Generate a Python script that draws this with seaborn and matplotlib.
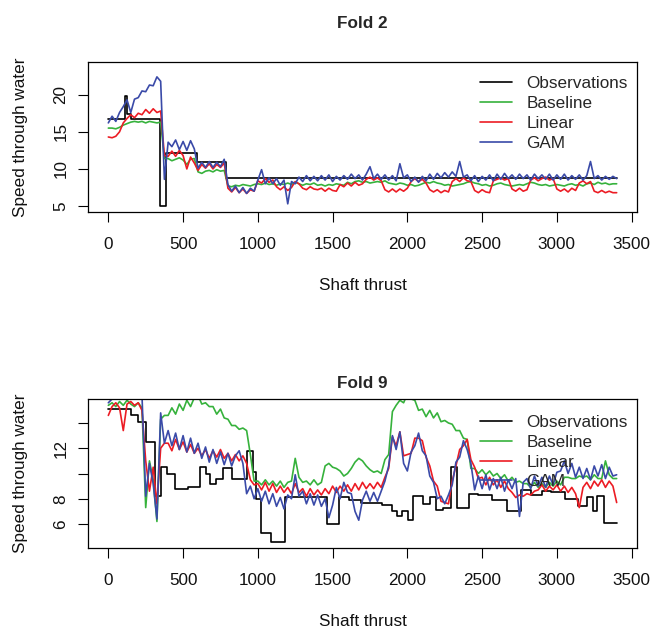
import numpy as np
import pandas as pd
import matplotlib
matplotlib.use("Agg")
import matplotlib.pyplot as plt
from matplotlib.lines import Line2D
import seaborn as sns

sns.set_theme(style="white")
plt.rcParams["font.family"] = ["Liberation Sans", "DejaVu Sans"]

# ---------------- data ----------------
x_grid = list(range(0, 3401, 25))  # observation index for model series

# Fold 2
obs2_x = [0, 110, 125, 150, 345, 385, 590, 785, 3400]
obs2_y = [16.7, 19.8, 17.4, 16.7, 5.0, 12.2, 10.9, 8.8, 8.8]

base2 = [15.5, 15.5, 15.4, 15.6, 15.9, 16.1, 16.3, 16.4,
         16.3, 16.4, 16.2, 16.4, 16.3, 16.2, 16.3, 11.4,
         11.4, 11.1, 11.3, 11.5, 11.2, 10.6, 11.3, 11.4,
         9.6, 9.4, 9.7, 9.8, 9.6, 9.9, 9.7, 9.8,
         7.7, 7.6, 7.8, 7.7, 7.9, 7.8, 7.7, 7.9,
         8.0, 7.9, 8.1, 7.9, 8.0, 7.8, 8.0, 7.9,
         8.1, 7.9, 8.2, 8.0, 7.8, 8.0, 7.9, 8.1,
         7.8, 7.9, 7.7, 7.9, 7.8, 8.0, 7.9, 7.8,
         8.2, 8.0, 8.3, 8.4, 8.2, 8.3, 8.1, 8.2,
         8.3, 8.2, 8.4, 8.1, 8.0, 7.9, 8.1, 8.0,
         7.8, 7.9, 7.7, 7.8, 8.0, 8.2, 8.1, 8.3,
         8.1, 8.0, 7.8, 7.9, 7.7, 7.8, 7.9, 8.0,
         8.2, 8.3, 8.1, 8.0, 7.8, 7.9, 7.7, 7.8,
         8.0, 8.1, 7.9, 7.8, 7.7, 7.8, 7.9, 7.8,
         8.0, 8.2, 8.1, 7.9, 7.8, 7.9, 7.7, 7.8,
         7.9, 7.8, 7.7, 7.9, 8.0, 7.8, 7.9, 7.7,
         8.0, 8.1, 7.9, 8.2, 8.0, 8.1, 7.9, 8.0,
         8.0]

lin2 = [14.3, 14.2, 14.4, 15.0, 16.2, 16.8, 17.3, 16.9,
        17.5, 17.3, 18.0, 17.5, 18.1, 17.6, 17.8, 11.8,
        11.7, 12.4, 11.7, 12.5, 11.8, 10.0, 11.6, 10.8,
        9.8, 10.6, 10.1, 10.7, 10.0, 10.6, 10.2, 10.8,
        7.4, 6.9, 7.5, 6.8, 7.3, 6.7, 7.2, 7.0,
        8.4, 8.1, 8.7, 8.2, 8.5, 7.6, 7.2, 7.6,
        7.1, 7.5, 8.3, 8.0, 7.4, 7.2, 7.6, 7.3,
        7.2, 7.4, 7.0, 7.4, 7.1, 7.0, 7.9, 7.6,
        8.1, 7.7, 8.2, 7.8, 8.0, 8.6, 8.9, 8.5,
        8.8, 8.4, 7.2, 6.9, 7.3, 6.9, 7.3, 7.0,
        7.4, 8.3, 8.7, 8.3, 8.6, 8.1, 7.2, 6.9,
        7.2, 6.8, 7.1, 6.9, 8.3, 8.7, 8.3, 8.8,
        8.4, 8.3, 7.1, 6.8, 7.2, 6.9, 6.8, 8.4,
        8.6, 8.8, 8.5, 8.7, 7.3, 7.0, 7.4, 7.0,
        7.2, 8.5, 8.8, 8.4, 8.7, 8.9, 8.5, 8.7,
        7.3, 7.0, 7.3, 6.9, 7.4, 7.1, 8.1, 8.4,
        8.0, 8.3, 7.0, 6.8, 7.1, 6.8, 7.0, 6.8,
        6.8]

gam2 = [16.2, 17.1, 16.4, 17.6, 18.4, 19.3, 17.6, 19.4,
        19.6, 20.5, 20.4, 21.3, 21.2, 22.4, 21.8, 8.6,
        13.6, 13.0, 13.9, 12.6, 13.7, 12.5, 13.8, 12.7,
        10.1, 10.9, 10.2, 11.0, 10.2, 10.9, 10.3, 11.3,
        7.9, 7.0, 7.7, 6.8, 7.5, 6.7, 7.4, 7.0,
        8.5, 9.9, 8.0, 8.8, 8.0, 8.7, 7.8, 8.5,
        5.3, 8.3, 8.0, 8.9, 8.3, 9.1, 8.4, 9.0,
        8.4, 9.1, 8.5, 9.2, 8.3, 9.0, 8.5, 9.1,
        8.6, 9.3, 8.7, 9.2, 8.5, 9.3, 10.3, 8.7,
        9.3, 8.6, 9.2, 8.5, 9.1, 8.4, 10.7, 8.8,
        9.2, 8.3, 8.9, 8.2, 9.0, 8.4, 9.3, 8.6,
        9.4, 8.8, 9.5, 8.9, 9.6, 9.0, 11.0, 8.9,
        9.2, 8.4, 9.1, 8.3, 9.0, 8.5, 9.2, 8.4,
        9.3, 8.6, 9.4, 8.7, 9.2, 8.6, 9.3, 8.7,
        9.2, 8.5, 9.3, 8.7, 9.2, 8.6, 9.3, 8.5,
        9.2, 8.6, 9.3, 8.5, 9.1, 8.6, 9.2, 8.5,
        9.1, 11.0, 8.7, 9.1, 8.5, 9.0, 8.6, 9.0,
        8.7]

# Fold 9
obs9_x = [0, 150, 200, 250, 310, 350, 390, 445, 535, 612, 650, 680, 720, 770,
          830, 925, 965, 990, 1020, 1090, 1180, 1465, 1545, 1610, 1690, 1830,
          1897, 1930, 1965, 2007, 2040, 2106, 2150, 2190, 2240, 2290, 2330,
          2413, 2475, 2564, 2664, 2763, 2830, 2900, 2963, 3052, 3141, 3200,
          3240, 3270, 3318, 3400]
obs9_y = [15.1, 14.6, 14.1, 12.5, 8.2, 10.5, 10.0, 8.8, 8.9, 10.5, 10.0, 9.2,
          9.6, 10.4, 9.6, 11.8, 10.1, 8.0, 5.3, 4.6, 8.1, 6.0, 8.1, 7.9, 7.7,
          7.5, 7.0, 6.6, 7.0, 6.3, 8.2, 7.6, 8.1, 7.1, 7.3, 10.5, 7.3, 8.4,
          8.3, 7.9, 7.0, 8.7, 8.3, 8.6, 8.5, 8.0, 7.4, 8.1, 7.0, 8.2, 6.1, 6.1]

base9 = [15.4, 15.6, 15.3, 15.7, 15.4, 15.8, 15.5, 15.3,
         15.6, 15.2, 7.3, 11.0, 9.5, 6.2, 14.3, 14.6,
         14.6, 15.2, 14.7, 15.5, 15.0, 15.8, 15.3, 16.0,
         16.2, 15.5, 15.6, 15.3, 15.3, 14.7, 15.1, 14.4,
         14.3, 13.8, 13.8, 13.5, 13.6, 13.4, 11.5, 9.4,
         9.4, 9.1, 9.5, 9.1, 9.4, 9.0, 9.4, 8.9,
         9.3, 9.4, 11.2, 9.7, 9.3, 9.4, 9.1, 9.5,
         9.1, 9.3, 10.6, 10.8, 10.5, 10.4, 10.2, 9.8,
         10.0, 10.4, 10.9, 11.2, 11.0, 10.6, 10.3, 10.1,
         10.2, 10.0, 11.1, 11.5, 14.9, 15.4, 15.8, 15.6,
         16.3, 15.9, 15.8, 15.0, 15.1, 14.5, 15.0, 14.4,
         14.8, 14.1, 14.2, 14.0, 13.9, 13.4, 13.4, 12.8,
         12.7, 10.4, 10.4, 10.0, 10.3, 9.9, 10.2, 9.8,
         10.0, 9.6, 9.9, 9.4, 9.7, 9.3, 9.4, 9.2,
         9.2, 8.9, 9.3, 8.9, 9.2, 8.9, 9.3, 9.0,
         9.4, 9.1, 9.7, 9.7, 9.6, 9.6, 9.8, 9.7,
         9.8, 9.5, 9.9, 9.6, 9.6, 11.0, 9.9, 9.6,
         9.6]

lin9 = [14.6, 15.3, 15.6, 15.2, 13.4, 15.5, 15.7, 15.4,
        15.6, 15.0, 11.0, 8.6, 10.5, 7.6, 12.0, 12.4,
        12.4, 11.8, 12.7, 11.9, 12.5, 11.7, 12.3, 11.6,
        12.0, 11.4, 11.9, 11.2, 11.8, 11.3, 11.9, 11.2,
        11.6, 11.0, 11.5, 11.0, 11.4, 10.8, 9.5, 9.1,
        9.2, 8.7, 9.3, 8.6, 9.2, 8.5, 9.0, 8.5,
        8.9, 8.4, 9.2, 8.5, 8.8, 8.2, 8.8, 8.3,
        8.7, 8.3, 8.8, 8.4, 9.0, 8.5, 9.0, 8.6,
        9.1, 8.6, 9.2, 8.7, 9.3, 8.8, 9.2, 8.8,
        9.3, 8.9, 9.7, 10.4, 12.9, 12.2, 13.3, 11.4,
        11.5, 11.6, 12.8, 12.8, 12.6, 11.3, 10.6, 9.4,
        9.0, 7.8, 7.7, 7.6, 9.4, 10.6, 11.9, 12.2,
        12.7, 11.1, 10.5, 9.6, 9.7, 9.1, 9.7, 9.1,
        9.5, 8.9, 9.4, 8.8, 8.5, 8.1, 8.3, 8.2,
        8.4, 8.3, 8.6, 8.7, 9.1, 8.6, 9.0, 8.7,
        9.1, 8.6, 9.0, 8.5, 8.9, 8.4, 7.3, 8.9,
        9.3, 8.8, 9.4, 9.0, 9.5, 8.9, 9.4, 9.0,
        7.7]

gam9 = [15.6, 15.9, 16.3, 16.4, 16.1, 16.3, 16.5, 16.2,
        16.3, 16.2, 8.2, 10.8, 9.2, 6.4, 14.8, 12.4,
        13.4, 12.2, 13.2, 11.9, 13.0, 11.7, 12.8, 11.6,
        12.4, 11.2, 12.1, 10.9, 11.9, 10.8, 11.7, 10.7,
        11.6, 10.6, 11.4, 11.8, 10.8, 8.4, 9.0, 8.0,
        8.8, 7.8, 8.6, 7.6, 8.4, 7.4, 8.1, 7.2,
        8.3, 8.0, 9.9, 8.2, 8.6, 7.6, 8.4, 7.5,
        8.3, 7.4, 8.0, 6.5, 7.5, 8.9, 8.0, 9.3,
        8.5, 8.4, 7.0, 6.3, 7.9, 8.6, 7.8, 8.5,
        7.8, 8.6, 9.4, 10.6, 13.0, 11.9, 13.3, 10.8,
        10.2, 11.7, 12.2, 13.2, 11.8, 11.4, 9.8, 9.3,
        8.0, 8.2, 7.6, 8.3, 9.1, 10.9, 11.3, 12.6,
        11.9, 10.8, 8.7, 9.8, 8.8, 9.9, 8.7, 9.6,
        8.8, 9.7, 8.6, 9.5, 8.8, 9.6, 6.6, 9.3,
        9.6, 8.8, 9.8, 9.0, 9.7, 8.9, 9.8, 9.1,
        10.1, 10.2, 11.0, 10.0, 10.8, 9.7, 10.5, 9.6,
        10.4, 9.5, 10.6, 9.8, 10.7, 9.6, 10.5, 9.8,
        9.9]

series_names = ["Observations", "Baseline", "Linear", "GAM"]
colors = {"Observations": "#000000", "Baseline": "#36b23c",
          "Linear": "#ec1c24", "GAM": "#3a4aa8"}

FS = 12.3
LW = 1.2

fig = plt.figure(figsize=(6.54, 6.3), dpi=100)
W, H = 654, 630


def axes_px(left, top, right, bottom):
    return fig.add_axes([left / W, 1 - bottom / H, (right - left) / W, (bottom - top) / H])


def draw_panel(ax, obs_x, obs_y, base, lin, gam, ylim, yticks, yticklabels,
               legend_anchor_y, label_spacing):
    sns.lineplot(x=obs_x, y=obs_y, ax=ax, color=colors["Observations"], lw=LW,
                 drawstyle="steps-post", estimator=None, legend=False)
    df = pd.DataFrame({
        "x": x_grid * 3,
        "y": base + lin + gam,
        "series": ["Baseline"] * len(x_grid) + ["Linear"] * len(x_grid) + ["GAM"] * len(x_grid),
    })
    sns.lineplot(data=df, x="x", y="y", hue="series", palette=colors,
                 hue_order=["Baseline", "Linear", "GAM"], ax=ax, lw=LW,
                 estimator=None, legend=False, sort=False)
    ax.set_xlim(-136, 3536)
    ax.set_ylim(*ylim)
    ax.set_xticks([0, 500, 1000, 1500, 2000, 2500, 3000, 3500])
    ax.set_xticklabels(["0", "500", "1000", "1500", "2000", "2500", "3000", "3500"], fontsize=FS)
    ax.set_yticks(yticks)
    ax.set_yticklabels(yticklabels, fontsize=FS, rotation=90, va="center")
    ax.tick_params(axis="both", bottom=True, left=True, direction="out", length=7,
                   width=0.8, color="black", labelcolor="#111111")
    ax.tick_params(axis="x", pad=11)
    ax.tick_params(axis="y", pad=7)
    for sp in ax.spines.values():
        sp.set_color("black")
        sp.set_linewidth(0.9)
    ax.set_xlabel("Shaft thrust", fontsize=FS, color="#111111")
    ax.set_ylabel("Speed through water", fontsize=FS, color="#111111")
    ax.xaxis.set_label_coords(0.5, -0.44)
    ax.yaxis.set_label_coords(-0.1095, 0.5)
    handles = [Line2D([], [], color=colors[n], lw=LW) for n in series_names]
    ax.legend(handles, series_names, loc="upper left", bbox_to_anchor=(0.714, legend_anchor_y),
              frameon=False, fontsize=FS, handlelength=1.86, handletextpad=0.87,
              labelspacing=label_spacing, borderaxespad=0, borderpad=0)


ax1 = axes_px(88, 62, 637, 212)
draw_panel(ax1, obs2_x, obs2_y, base2, lin2, gam2, (4.2, 24.4),
           [5, 10, 15, 20], ["5", "10", "15", "20"], 0.91, 0.31)
fig.text(362.5 / W, 1 - 24 / H, "Fold 2", ha="center", va="center",
         fontsize=FS, fontweight="bold")

ax2 = axes_px(88, 399, 637, 548)
draw_panel(ax2, obs9_x, obs9_y, base9, lin9, gam9, (4.1, 15.9),
           [6, 8, 10, 12, 14], ["6", "8", "", "12", ""], 0.893, 0.28)
fig.text(362.5 / W, 1 - 383 / H, "Fold 9", ha="center", va="center",
         fontsize=FS, fontweight="bold")

fig.savefig("out.png", dpi=100, facecolor="white")
